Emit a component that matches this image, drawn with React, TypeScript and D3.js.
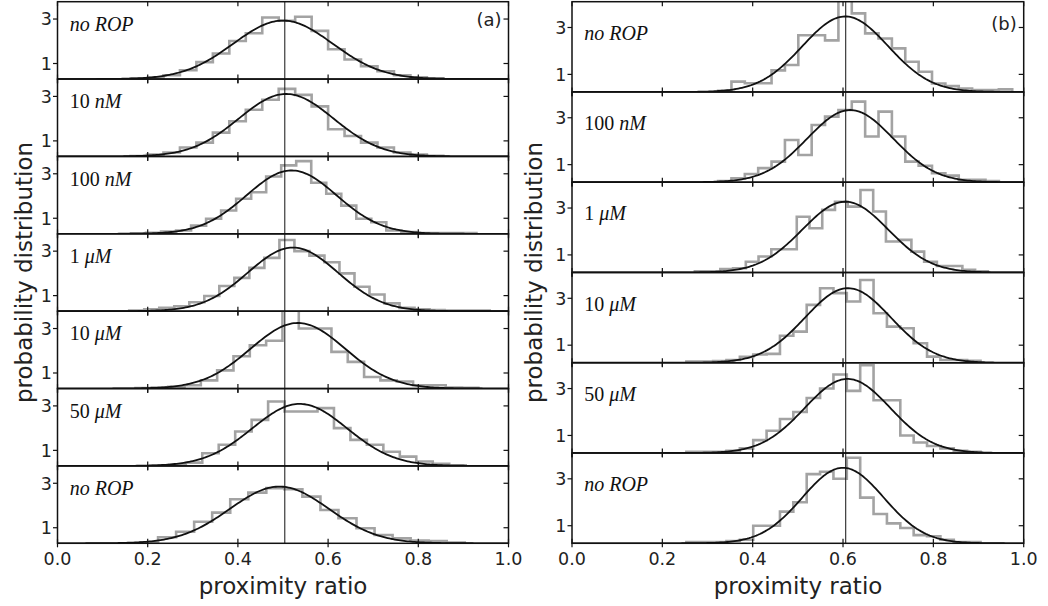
import React from 'react';
import * as d3 from 'd3';

const W = 1048;
const H = 606;

const xTicks = [0, 0.2, 0.4, 0.6, 0.8, 1.0];
const xTickLabels = ['0.0', '0.2', '0.4', '0.6', '0.8', '1.0'];
const yTicks = [1, 3];
const yTickLabels = ['1', '3'];

// ---------- panel (a) ----------
const aLabelNum = ['', '10', '100', '1', '10', '50', ''];
const aLabelUnit = ['no ROP', 'nM', 'nM', 'μM', 'μM', 'μM', 'no ROP'];
const aBinStart = [0.162, 0.162, 0.163, 0.159, 0.173, 0.2115, 0.183];
const aBinWidth = [0.0365, 0.0365, 0.0333, 0.0333, 0.0362, 0.0365, 0.04];
const aHist1 = [0.32, 0.35, 0.47, 0.7, 1.06, 1.45, 2.01, 2.36, 3.07, 2.92, 3.1, 2.47, 1.64, 1.18, 0.88, 0.65, 0.47, 0.38, 0.33];
const aHist2 = [0.32, 0.38, 0.48, 0.7, 0.92, 1.37, 1.88, 2.4, 2.85, 3.34, 3.07, 2.55, 1.52, 1.22, 0.92, 0.7, 0.48, 0.38, 0.33];
const aHist3 = [0.32, 0.35, 0.4, 0.45, 0.67, 0.98, 1.35, 1.88, 2.17, 2.88, 3.38, 3.57, 2.6, 2.1, 1.57, 0.98, 0.82, 0.45, 0.38, 0.33, 0.33, 0.33, 0.33];
const aHist4 = [0.33, 0.38, 0.45, 0.52, 0.7, 0.98, 1.43, 1.8, 2.25, 2.7, 3.5, 3.0, 2.8, 2.5, 2.0, 1.4, 1.05, 0.65, 0.45, 0.38, 0.35, 0.33, 0.33, 0.33];
const aHist5 = [0.32, 0.35, 0.38, 0.45, 0.67, 1.12, 1.75, 2.25, 2.45, 3.9, 3.0, 3.0, 1.95, 1.5, 0.82, 0.67, 0.62, 0.45, 0.45, 0.35, 0.33];
const aHist6 = [0.32, 0.35, 0.45, 0.87, 1.25, 1.85, 2.37, 3.2, 2.75, 2.75, 2.9, 2.0, 1.47, 1.25, 0.94, 0.72, 0.5, 0.4, 0.33];
const aHist7 = [0.35, 0.57, 0.82, 1.27, 1.68, 2.28, 2.58, 2.78, 2.73, 2.4, 1.8, 1.43, 0.98, 0.67, 0.52, 0.42, 0.4, 0.33];
const aHists = [aHist1, aHist2, aHist3, aHist4, aHist5, aHist6, aHist7];
const aFitMu = [0.5, 0.507, 0.519, 0.522, 0.533, 0.537, 0.492];
const aFitPeak = [2.93, 3.11, 3.15, 3.16, 3.25, 3.09, 2.85];
const aFitSigma = [0.11, 0.105, 0.1, 0.1, 0.105, 0.105, 0.11];
const aYDomain = [0.3, 3.78];
const aVLine = 0.504;

// ---------- panel (b) ----------
const bLabelNum = ['', '100', '1', '10', '50', ''];
const bLabelUnit = ['no ROP', 'nM', 'μM', 'μM', 'μM', 'no ROP'];
const bBinStart = [0.3234, 0.3234, 0.272, 0.2532, 0.2532, 0.2532];
const bBinWidth = [0.0296, 0.0296, 0.0282, 0.0296, 0.0296, 0.0296];
const bHist1 = [0.3, 0.69, 0.62, 0.62, 1.17, 1.4, 2.67, 2.67, 2.45, 4.3, 3.6, 2.75, 2.53, 2.11, 1.54, 1.11, 0.61, 0.5, 0.4, 0.33, 0.33, 0.36];
const bHist2 = [0.3, 0.42, 0.6, 0.85, 1.13, 2.05, 1.41, 2.69, 3.05, 3.33, 3.69, 2.2, 3.26, 2.2, 1.13, 0.95, 0.63, 0.53, 0.35, 0.35, 0.3];
const bHist3 = [0.3, 0.3, 0.4, 0.43, 0.71, 0.93, 1.24, 1.24, 2.63, 2.14, 2.92, 3.27, 3.06, 3.77, 2.85, 1.57, 1.64, 1.14, 0.71, 0.53, 0.53, 0.36, 0.3];
const bHist4 = [0.3, 0.3, 0.32, 0.37, 0.5, 0.6, 0.63, 1.4, 1.58, 2.72, 3.43, 3.22, 2.86, 3.78, 2.36, 1.79, 1.72, 1.08, 0.51, 0.37, 0.37, 0.33];
const bHist5 = [0.3, 0.3, 0.3, 0.35, 0.45, 0.8, 1.2, 1.7, 2.0, 2.6, 3.0, 3.6, 2.9, 4.0, 2.5, 2.5, 1.0, 0.7, 0.55, 0.45, 0.35, 0.3];
const bHist6 = [0.3, 0.3, 0.3, 0.35, 0.4, 1.0, 1.0, 1.6, 2.0, 3.2, 3.3, 3.0, 3.9, 2.2, 1.5, 1.1, 0.9, 0.6, 0.55, 0.4, 0.3, 0.3];
const bHists = [bHist1, bHist2, bHist3, bHist4, bHist5, bHist6];
const bFitMu = [0.605, 0.616, 0.605, 0.611, 0.61, 0.6];
const bFitPeak = [3.47, 3.33, 3.27, 3.43, 3.41, 3.47];
const bFitSigma = [0.095, 0.095, 0.095, 0.095, 0.095, 0.09];
const bYDomain = [0.25, 4.1];
const bVLine = 0.606;

const SANS = 'DejaVu Sans, sans-serif';
const SERIF = 'Liberation Serif, DejaVu Serif, serif';

type StackProps = {
  id: string;
  x0: number; x1: number; top: number; bottom: number;
  yDomain: number[];
  starts: number[]; widths: number[]; hists: number[][];
  mus: number[]; peaks: number[]; sigmas: number[];
  labelNum: string[]; labelUnit: string[];
  vline: number; tag: string; labelCenterX: number; yLabelX: number;
};

function Stack(p: StackProps) {
  const n = p.hists.length;
  const h = (p.bottom - p.top) / n;
  const x = d3.scaleLinear().domain([0, 1]).range([p.x0, p.x1]);
  const xs = d3.range(0, 1.0001, 0.004);
  const panels = p.hists.map((vals, i) => {
    const top = p.top + i * h;
    const bottom = top + h;
    const y = d3.scaleLinear().domain(p.yDomain).range([bottom, top]);
    const base = p.yDomain[0];
    const edges = d3.range(vals.length + 1).map((k) => p.starts[i] + k * p.widths[i]);
    const pts: [number, number][] = [[edges[0], 0]];
    vals.forEach((v, k) => {
      pts.push([edges[k], v]);
      pts.push([edges[k + 1], v]);
    });
    pts.push([edges[vals.length], 0]);
    const step = d3.line<[number, number]>().x((d) => x(d[0])).y((d) => y(d[1]))(pts) || '';
    const curve = d3
      .line<number>()
      .x((d) => x(d))
      .y((d) => y(base + (p.peaks[i] - base) * Math.exp(-((d - p.mus[i]) ** 2) / (2 * p.sigmas[i] ** 2))))(xs) || '';
    const clipId = `${p.id}-clip-${i}`;
    return (
      <g key={i}>
        <defs>
          <clipPath id={clipId}>
            <rect x={p.x0} y={top} width={p.x1 - p.x0} height={h} />
          </clipPath>
        </defs>
        <g clipPath={`url(#${clipId})`}>
          <path d={step} fill="none" stroke="#a3a3a3" strokeWidth={2.6} strokeLinejoin="miter" />
          <path d={curve} fill="none" stroke="#111" strokeWidth={1.8} />
        </g>
        <text x={x(0.027)} y={y(2.47)} fontFamily={SERIF} fontSize={20} fill="#111">
          {p.labelNum[i] ? <tspan>{p.labelNum[i]}</tspan> : null}
          {p.labelNum[i] ? <tspan> </tspan> : null}
          <tspan fontStyle="italic">{p.labelUnit[i]}</tspan>
        </text>
        {yTicks.map((t, k) => (
          <g key={`yt${k}`}>
            <line x1={p.x0 - 4.5} x2={p.x0} y1={y(t)} y2={y(t)} stroke="#111" strokeWidth={1.2} />
            <line x1={p.x1 - 5} x2={p.x1} y1={y(t)} y2={y(t)} stroke="#111" strokeWidth={1.2} />
            <text x={p.x0 - 5.5} y={y(t) + 6.3} textAnchor="end" fontFamily={SANS} fontSize={17.5} fill="#222">
              {yTickLabels[k]}
            </text>
          </g>
        ))}
        {xTicks.map((t, k) => (
          <g key={`xt${k}`}>
            <line x1={x(t)} x2={x(t)} y1={bottom - 4.5} y2={bottom + 4} stroke="#111" strokeWidth={1.2} />
            <line x1={x(t)} x2={x(t)} y1={top} y2={top + 4.5} stroke="#111" strokeWidth={1.2} />
          </g>
        ))}
        <rect x={p.x0} y={top} width={p.x1 - p.x0} height={h} fill="none" stroke="#111" strokeWidth={1.5} />
        {i === 0 ? (
          <text x={p.x1 - 7} y={top + 0.3 * h + 1.5} textAnchor="end" fontFamily={SANS} fontSize={18} fill="#222">
            {p.tag}
          </text>
        ) : null}
      </g>
    );
  });
  return (
    <g>
      {panels}
      <line x1={x(p.vline)} x2={x(p.vline)} y1={p.top} y2={p.bottom} stroke="#111" strokeWidth={1} />
      {xTicks.map((t, k) => (
        <text key={`xl${k}`} x={x(t)} y={p.bottom + 22} textAnchor="middle" fontFamily={SANS} fontSize={17.5} fill="#222">
          {xTickLabels[k]}
        </text>
      ))}
      <text x={p.labelCenterX} y={594} textAnchor="middle" fontFamily={SANS} fontSize={23} fill="#222">
        proximity ratio
      </text>
      <text
        transform={`translate(${p.yLabelX},${(p.top + p.bottom) / 2}) rotate(-90)`}
        textAnchor="middle"
        fontFamily={SANS}
        fontSize={23}
        fill="#222"
      >
        probability distribution
      </text>
    </g>
  );
}

export default function App() {
  return (
    <svg
      width={W}
      height={H}
      viewBox={`0 0 ${W} ${H}`}
      style={{ position: 'absolute', left: 0, top: 0, background: '#fff' }}
    >
      <rect x={0} y={0} width={W} height={H} fill="#fff" />
      <Stack
        id="a"
        x0={57.5}
        x1={508.5}
        top={1.7}
        bottom={543.3}
        yDomain={aYDomain}
        starts={aBinStart}
        widths={aBinWidth}
        hists={aHists}
        mus={aFitMu}
        peaks={aFitPeak}
        sigmas={aFitSigma}
        labelNum={aLabelNum}
        labelUnit={aLabelUnit}
        vline={aVLine}
        tag="(a)"
        labelCenterX={283}
        yLabelX={32}
      />
      <Stack
        id="b"
        x0={572}
        x1={1023.7}
        top={1.7}
        bottom={543.3}
        yDomain={bYDomain}
        starts={bBinStart}
        widths={bBinWidth}
        hists={bHists}
        mus={bFitMu}
        peaks={bFitPeak}
        sigmas={bFitSigma}
        labelNum={bLabelNum}
        labelUnit={bLabelUnit}
        vline={bVLine}
        tag="(b)"
        labelCenterX={798}
        yLabelX={542}
      />
    </svg>
  );
}
